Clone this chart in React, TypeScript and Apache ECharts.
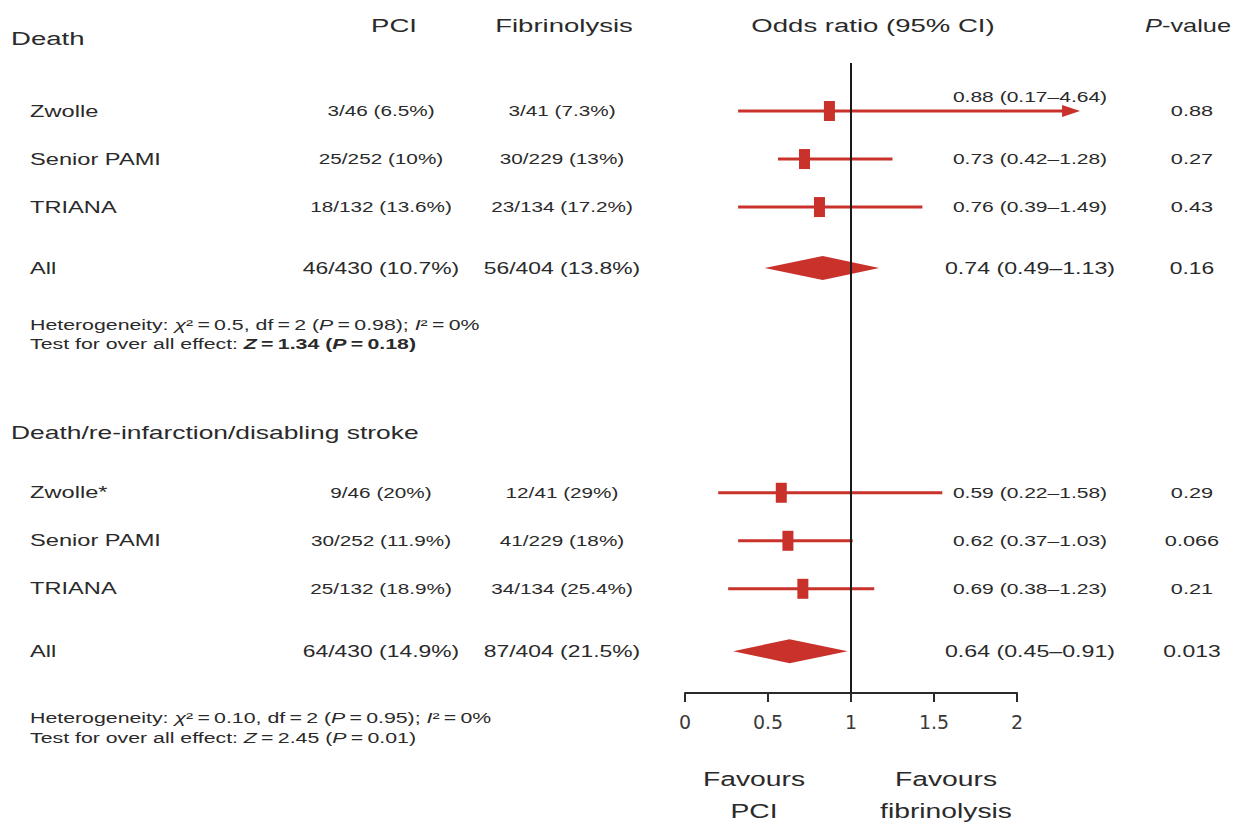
import React, { useEffect, useRef } from "react";
import * as echarts from "echarts";

// ---------- data ----------
const columnHeaders = ["PCI", "Fibrinolysis", "Odds ratio (95% CI)", "{i|P}-value"];
const sectionTitles = ["Death", "Death/re-infarction/disabling stroke"];

const deathStudies = ["Zwolle", "Senior PAMI", "TRIANA", "All"];
const deathPCI = ["3/46 (6.5%)", "25/252 (10%)", "18/132 (13.6%)", "46/430 (10.7%)"];
const deathFib = ["3/41 (7.3%)", "30/229 (13%)", "23/134 (17.2%)", "56/404 (13.8%)"];
const deathORText = ["0.88 (0.17\u20134.64)", "0.73 (0.42\u20131.28)", "0.76 (0.39\u20131.49)", "0.74 (0.49\u20131.13)"];
const deathP = ["0.88", "0.27", "0.43", "0.16"];
// positions of the marks as drawn on the picture
const deathOR = [0.87, 0.72, 0.81, 0.83];
const deathLo = [0.32, 0.56, 0.32, 0.48];
const deathHi = [2.38, 1.25, 1.43, 1.17];

const compStudies = ["Zwolle*", "Senior PAMI", "TRIANA", "All"];
const compPCI = ["9/46 (20%)", "30/252 (11.9%)", "25/132 (18.9%)", "64/430 (14.9%)"];
const compFib = ["12/41 (29%)", "41/229 (18%)", "34/134 (25.4%)", "87/404 (21.5%)"];
const compORText = ["0.59 (0.22\u20131.58)", "0.62 (0.37\u20131.03)", "0.69 (0.38\u20131.23)", "0.64 (0.45\u20130.91)"];
const compP = ["0.29", "0.066", "0.21", "0.013"];
const compOR = [0.58, 0.62, 0.71, 0.63];
const compLo = [0.2, 0.32, 0.26, 0.29];
const compHi = [1.55, 1.01, 1.14, 0.98];

const deathRows = [1, 2, 3, 4.27];
const compRows = [8.95, 9.95, 10.95, 12.25];

const heterogeneity = [
  "Heterogeneity: {i|\u03c7}\u00b2\u2009=\u20090.5, df\u2009=\u20092 ({i|P}\u2009=\u20090.98); {i|I}\u00b2\u2009=\u20090%",
  "Heterogeneity: {i|\u03c7}\u00b2\u2009=\u20090.10, df\u2009=\u20092 ({i|P}\u2009=\u20090.95); {i|I}\u00b2\u2009=\u20090%",
];
const overallEffect = [
  "Test for over all effect: {bi|Z}{b|\u2009=\u20091.34 (}{bi|P}{b|\u2009=\u20090.18)}",
  "Test for over all effect: {i|Z}\u2009=\u20092.45 ({i|P}\u2009=\u20090.01)",
];
const favours = ["Favours\nPCI", "Favours\nfibrinolysis"];

const X_MIN = 0;
const X_MAX = 2;
const X_STEP = 0.5;
const Y_MAX = 13.12;

// ---------- style ----------
const FONT = '"Liberation Sans", Arial, Helvetica, sans-serif';
const SX = 1.45;
const TEXT = "#2a2a2a";
const RED = "#c8322b";

const richFor = (size: number) => ({
  i: { fontStyle: "italic", fontSize: size, fontFamily: FONT, fill: TEXT, color: TEXT },
  b: { fontWeight: "bold", fontSize: size, fontFamily: FONT, fill: TEXT, color: TEXT },
  bi: { fontWeight: "bold", fontStyle: "italic", fontSize: size, fontFamily: FONT, fill: TEXT, color: TEXT },
});

function txt(x: number, y: number, text: string, size: number, align = "left", extra: any = {}) {
  return {
    type: "text",
    x,
    y,
    scaleX: SX,
    scaleY: 1,
    originX: 0,
    originY: 0,
    silent: true,
    style: {
      text,
      fill: TEXT,
      fontSize: size,
      fontFamily: FONT,
      fontWeight: extra.weight || "normal",
      textAlign: align,
      textVerticalAlign: extra.valign || "middle",
      align,
      verticalAlign: extra.valign || "middle",
      lineHeight: extra.lineHeight,
      rich: richFor(size),
    },
  };
}

const COL_STUDY = 30;
const COL_PCI = 381;
const COL_FIB = 562;
const COL_OR = 1030;
const COL_P = 1192;

export default function App() {
  const ref = useRef<HTMLDivElement>(null);

  useEffect(() => {
    if (!ref.current) return;
    const chart = echarts.init(ref.current, undefined, { renderer: "svg" });

    const sections = [
      { names: deathStudies, pci: deathPCI, fib: deathFib, ort: deathORText, p: deathP, or: deathOR, lo: deathLo, hi: deathHi, rows: deathRows },
      { names: compStudies, pci: compPCI, fib: compFib, ort: compORText, p: compP, or: compOR, lo: compLo, hi: compHi, rows: compRows },
    ];
    const data: number[][] = [];
    sections.forEach((s, si) => {
      s.rows.forEach((y, ri) => {
        data.push([s.or[ri], s.lo[ri], s.hi[ri], y, si, ri]);
      });
    });

    const renderItem = (_params: any, api: any) => {
      const or = api.value(0);
      const lo = api.value(1);
      const hi = api.value(2);
      const yv = api.value(3);
      const si = api.value(4);
      const ri = api.value(5);
      const s = sections[si];
      const isAll = ri === s.rows.length - 1;
      const [cx, cy] = api.coord([or, yv]);
      const loX = api.coord([lo, yv])[0];
      const hiX = api.coord([hi, yv])[0];
      const children: any[] = [];
      const numSize = isAll ? 15.8 : 14.3;
      const orSize = isAll ? 16 : 14.5;

      children.push(txt(COL_STUDY, cy, s.names[ri], 16.3));
      children.push(txt(COL_PCI, cy, s.pci[ri], numSize, "center"));
      children.push(txt(COL_FIB, cy, s.fib[ri], numSize, "center"));

      if (isAll) {
        children.push({
          type: "polygon",
          shape: { points: [[loX, cy], [cx, cy - 12], [hiX, cy], [cx, cy + 12]] },
          style: { fill: RED },
        });
      } else {
        const arrow = hi > X_MAX;
        children.push({
          type: "line",
          shape: { x1: loX, y1: cy, x2: arrow ? hiX - 12 : hiX, y2: cy },
          style: { stroke: RED, lineWidth: 3 },
        });
        if (arrow) {
          children.push({
            type: "polygon",
            shape: { points: [[hiX, cy], [hiX - 18, cy - 6], [hiX - 18, cy + 6]] },
            style: { fill: RED },
          });
        }
        children.push({
          type: "rect",
          shape: { x: cx - 5.5, y: cy - 10, width: 11, height: 20 },
          style: { fill: RED },
        });
      }
      const raised = hi > X_MAX ? 14 : 0;
      children.push(txt(COL_OR, cy - raised, s.ort[ri], orSize, "center"));
      children.push(txt(COL_P, cy, s.p[ri], isAll ? 15.8 : 15, "center"));
      return { type: "group", children };
    };

    const graphics: any[] = [
      txt(394, 26, columnHeaders[0], 19, "center"),
      txt(564, 26, columnHeaders[1], 19, "center"),
      txt(873, 26, columnHeaders[2], 19, "center"),
      txt(1188, 26, columnHeaders[3], 17.5, "center"),
      txt(11, 39, sectionTitles[0], 19),
      txt(11, 433, sectionTitles[1], 18.2),
      txt(COL_STUDY, 325, heterogeneity[0], 14.7),
      txt(COL_STUDY, 344, overallEffect[0], 14.7),
      txt(COL_STUDY, 718, heterogeneity[1], 14.7),
      txt(COL_STUDY, 738, overallEffect[1], 14.7),
      txt(754, 763, favours[0], 19.5, "center", { valign: "top", lineHeight: 32 }),
      txt(946, 763, favours[1], 19.5, "center", { valign: "top", lineHeight: 32 }),
    ];

    chart.setOption({
      animation: false,
      grid: { left: 685, right: 1233 - 1017, top: 63, bottom: 827 - 693, containLabel: false },
      xAxis: {
        type: "value",
        position: "bottom",
        min: X_MIN,
        max: X_MAX,
        interval: X_STEP,
        axisLine: { show: true, onZero: false, lineStyle: { color: "#2a2a2a", width: 2 } },
        axisTick: { show: true, length: 9, lineStyle: { color: "#2a2a2a", width: 2 } },
        axisLabel: { fontSize: 19, color: "#3a3a3a", margin: 19, fontFamily: "DejaVu Sans", formatter: (v: number) => String(v) },
        splitLine: { show: false },
      },
      yAxis: { type: "value", inverse: true, min: 0, max: Y_MAX, show: false },
      series: [
        {
          type: "custom",
          renderItem,
          data,
          clip: false,
          z: 2,
          silent: true,
        },
        {
          type: "line",
          data: [[1, 0], [1, Y_MAX]],
          symbol: "none",
          lineStyle: { color: "#1a1a1a", width: 2 },
          z: 5,
          silent: true,
        },
      ],
      graphic: { elements: graphics },
    });

    return () => chart.dispose();
  }, []);

  return (
    <div
      ref={ref}
      style={{ position: "absolute", left: 0, top: 0, width: 1233, height: 827, background: "#fff" }}
    />
  );
}
